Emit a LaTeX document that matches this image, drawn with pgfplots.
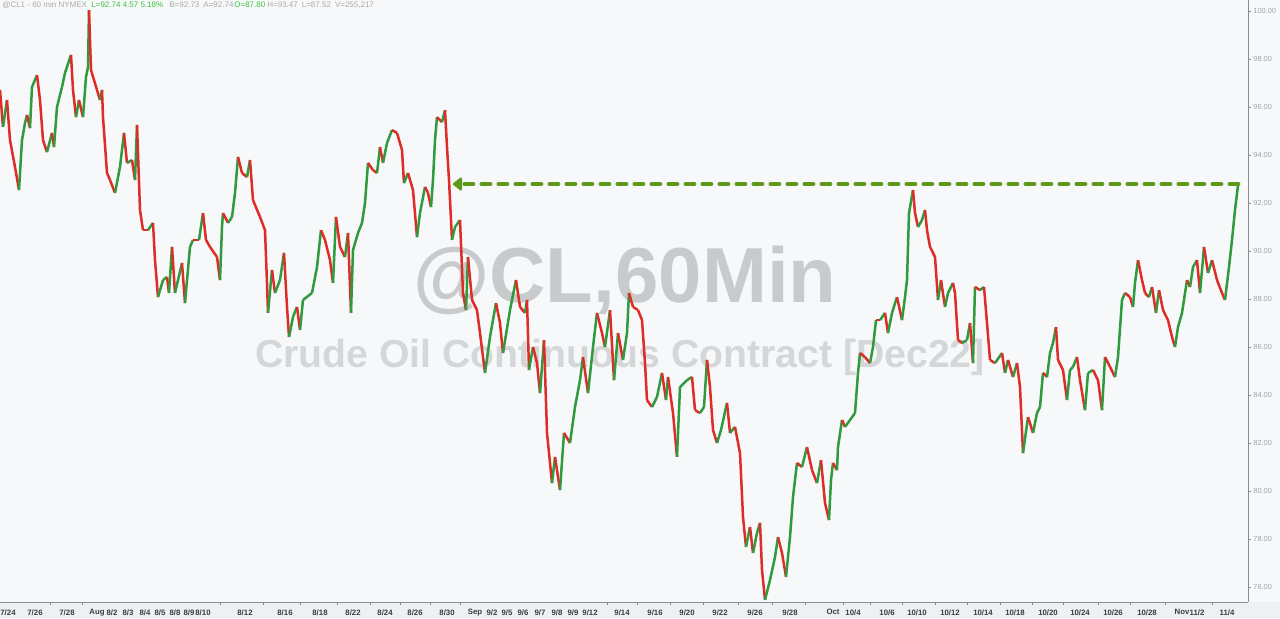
\documentclass[border=0pt]{standalone}
\usepackage{pgfplots}
\pgfplotsset{compat=1.18}
\usepackage{pgfplotstable}
\usetikzlibrary{arrows.meta}
\usepackage{fontspec}
\setmainfont{Liberation Sans}

\definecolor{bg}{HTML}{F7F8FA}
\definecolor{bgstrip}{HTML}{EFF0F2}
\definecolor{cred}{HTML}{DE2C26}
\definecolor{cgreen}{HTML}{2F9A3E}
\definecolor{cdash}{HTML}{5E9A18}
\definecolor{cline}{HTML}{8A8C8F}
\definecolor{ylab}{HTML}{A0A2A5}
\definecolor{xlab}{HTML}{3A3C40}
\definecolor{hgray}{HTML}{AAAAAA}
\definecolor{hgreen}{HTML}{3CC23C}
\definecolor{wma}{HTML}{C9CACC}
\definecolor{wmb}{HTML}{D5D6D8}

% hourly path of CL (Dec22), x = bar position, p = price, d = 1 if next bar is higher
\pgfplotstableread{
x p d
0 96.71 0
3 95.17 1
7 96.29 0
10 94.62 0
15 93.50 0
19 92.54 1
22 94.62 1
25 95.33 1
27 95.67 0
30 95.12 1
32 96.83 1
37 97.33 0
40 96.29 0
43 94.62 0
47 94.12 1
52 94.92 0
54 94.33 1
57 96.00 1
62 96.83 1
65 97.42 1
71 98.17 0
73 96.71 0
76 95.58 1
79 96.29 0
83 95.58 1
86 97.25 1
88 97.67 1
89 100.04 0
91 97.54 0
97 96.71 0
100 96.29 1
102 96.71 0
103 95.58 0
107 93.25 0
110 92.96 0
115 92.42 1
120 93.50 1
124 94.92 0
127 93.67 1
132 93.79 0
135 92.96 1
137 95.25 0
140 91.71 0
143 90.87 0
148 90.87 1
153 91.17 0
155 89.62 0
158 88.08 1
163 88.79 1
167 88.92 0
169 88.25 1
172 90.17 0
175 88.25 1
182 89.50 0
185 87.83 1
190 90.17 1
193 90.46 0
199 90.46 1
203 91.58 0
206 90.46 0
210 90.17 0
217 89.75 0
220 88.79 1
222 91.00 1
223 91.58 0
228 91.17 1
232 91.42 1
235 92.42 1
238 93.92 0
242 93.25 0
247 93.08 1
250 93.79 0
253 92.12 0
260 91.42 0
265 90.87 0
267 88.67 0
268 87.42 1
272 89.21 0
275 88.25 1
280 88.79 1
284 89.92 0
287 87.67 0
289 86.42 1
293 87.25 1
297 87.67 0
300 86.71 1
303 87.96 1
312 88.25 1
317 89.33 1
321 90.87 0
325 90.46 0
330 89.62 0
333 88.67 1
336 91.42 0
340 90.17 0
345 89.75 1
348 90.75 0
351 87.42 1
353 90.04 1
358 90.75 1
362 91.17 1
365 92.00 1
368 93.67 0
373 93.37 0
377 93.25 1
380 94.33 0
383 93.67 1
387 94.50 1
392 95.04 0
397 94.92 0
402 94.21 0
404 92.83 1
408 93.25 0
413 92.54 0
417 90.58 1
420 91.58 1
425 92.67 0
428 92.42 0
431 91.83 1
433 92.96 1
435 94.62 1
437 95.58 0
442 95.37 1
445 95.87 0
447 94.33 0
449 92.96 0
452 90.46 1
455 91.00 1
460 91.29 0
463 88.25 0
466 87.54 1
468 89.75 0
472 87.96 0
477 87.54 0
480 86.58 0
485 84.92 1
490 86.42 1
496 87.83 0
500 87.00 0
503 85.75 1
510 87.54 1
516 88.79 0
520 87.67 0
525 87.42 1
527 87.96 0
529 85.04 1
533 86.00 0
537 85.33 0
540 84.08 1
544 86.29 0
547 82.42 0
552 80.33 1
555 81.42 0
560 80.04 1
564 82.42 0
570 82.00 1
575 83.50 1
580 84.62 1
583 85.58 0
588 84.08 1
593 86.00 1
597 87.42 0
602 86.58 0
605 86.00 1
610 87.54 0
614 84.62 1
618 86.58 0
623 85.46 1
627 86.58 1
629 88.25 0
633 87.67 0
638 87.54 0
642 87.12 0
645 85.33 0
647 83.79 0
652 83.50 1
657 83.92 1
662 84.92 0
666 83.79 1
668 84.75 0
673 83.25 0
677 81.42 1
680 84.33 1
687 84.62 1
692 84.75 0
695 83.37 0
700 83.25 1
704 83.50 1
707 85.46 0
710 84.33 0
713 82.54 0
717 82.00 1
721 82.54 1
727 83.67 0
730 82.42 1
735 82.67 0
740 81.58 0
743 78.92 0
746 77.67 1
750 78.50 0
753 77.42 1
757 78.25 1
760 78.67 0
762 76.71 0
765 75.46 1
770 76.29 1
775 77.25 1
778 78.08 0
782 77.42 0
786 76.42 1
790 78.08 1
793 79.75 1
797 81.17 0
802 81.00 1
807 81.83 0
812 80.87 0
817 80.33 1
821 81.29 0
825 79.50 0
829 78.79 1
831 80.46 1
833 81.17 0
837 80.87 1
838 81.83 1
842 82.96 0
845 82.67 1
850 82.96 1
855 83.25 1
858 84.92 1
860 85.75 0
865 85.58 0
870 85.33 1
873 86.00 1
876 87.12 0
880 87.12 1
885 87.42 0
888 86.58 1
892 87.42 1
897 88.08 0
902 87.12 1
905 88.08 1
907 88.79 1
909 91.58 1
913 92.54 0
915 91.58 0
918 91.00 1
922 91.29 1
925 91.71 0
927 90.87 0
930 90.17 0
935 89.75 0
938 87.96 1
941 88.79 0
945 87.67 1
948 88.25 1
953 88.67 0
955 88.25 0
958 86.29 0
962 86.17 1
967 86.29 1
970 87.00 0
973 85.33 1
975 88.50 0
980 88.37 1
984 88.50 0
987 87.00 0
990 85.46 0
995 85.33 1
1002 85.75 0
1005 84.92 1
1008 85.46 0
1013 84.75 1
1017 85.33 0
1020 84.33 0
1023 81.58 1
1028 83.08 0
1033 82.42 1
1037 83.25 1
1040 83.50 1
1043 84.92 0
1047 84.75 1
1050 85.75 1
1053 86.17 1
1056 86.83 0
1058 85.46 0
1063 85.04 0
1067 83.79 1
1070 85.04 1
1073 85.17 1
1077 85.58 0
1080 84.62 0
1085 83.37 1
1088 84.92 1
1093 85.04 0
1098 84.62 0
1102 83.37 1
1105 85.58 0
1110 85.17 0
1115 84.75 1
1118 85.58 1
1122 87.96 1
1125 88.25 0
1130 88.08 0
1133 87.67 1
1135 88.67 1
1138 89.62 0
1142 88.79 0
1145 88.25 0
1149 88.08 1
1152 88.50 0
1156 87.42 1
1159 88.37 0
1163 87.54 0
1168 87.12 0
1172 86.42 0
1175 86.00 1
1178 86.83 1
1182 87.42 1
1187 88.79 0
1190 88.50 1
1193 89.33 1
1197 89.62 0
1200 88.25 1
1204 90.17 0
1208 89.08 1
1212 89.62 0
1217 88.79 0
1222 88.25 0
1225 87.96 1
1229 89.33 1
1232 90.46 1
1235 91.71 1
1238 92.74 0
}\cl

\newcommand\hdr{\fontsize{4}{5}\selectfont}

\begin{document}
\begin{tikzpicture}
\fill[bg] (0,-8pt) rectangle (640pt,301pt);
\fill[bgstrip] (0,-8pt) rectangle (640pt,0);
\begin{axis}[
  at={(0,0)}, anchor=south west,
  x=0.5pt, y=12pt,
  xmin=0, xmax=1248, ymin=75.375, ymax=100.458,
  axis x line*=bottom, axis y line*=right,
  axis line style={draw=cline, line width=0.5pt, -},
  tick align=outside,
  major tick length=1.5pt, minor tick length=1.5pt,
  ytick={76,78,...,100},
  major y tick style={draw=cline, line width=0.4pt},
  yticklabel style={font=\fontsize{3.7}{4}\selectfont, text=ylab, inner sep=0pt, xshift=1pt,
    /pgf/number format/.cd, fixed, fixed zerofill, precision=2, assume math mode=true},
  xtick={8,35,67,97,112,128,145,160,175,189,203,245,285,320,353,385,415,447,475,492,507,523,540,557,573,590,622,655,687,720,755,790,833,853,887,917,950,983,1015,1048,1080,1113,1147,1182,1197,1227},
  xticklabels={7/24,7/26,7/28,Aug,8/2,8/3,8/4,8/5,8/8,8/9,8/10,8/12,8/16,8/18,8/22,8/24,8/26,8/30,Sep,9/2,9/5,9/6,9/7,9/8,9/9,9/12,9/14,9/16,9/20,9/22,9/26,9/28,Oct,10/4,10/6,10/10,10/12,10/14,10/18,10/20,10/24,10/26,10/28,Nov,11/2,11/4},
  minor xtick={50,82,220,263,300,337,370,400,430,460,607,637,670,703,738,772,805,843,870,902,935,967,1000,1032,1063,1098,1130,1165,1212},
  major x tick style={draw=none},
  minor x tick style={draw=cline, line width=0.4pt},
  xticklabel style={font=\fontsize{3.9}{4}\selectfont\bfseries, text=xlab, inner sep=0pt, yshift=-2pt},
  colormap={rg}{color=(cred) color=(cgreen)},
  point meta min=0, point meta max=1,
]
% watermark
\node[font=\fontsize{39}{40}\selectfont\bfseries, text=wma] at (axis cs:625,88.79) {@CL,60Min};
\node[font=\fontsize{19.6}{20}\selectfont\bfseries, text=wmb] at (axis cs:620,85.58) {Crude Oil Continuous Contract [Dec22]};

% header line
\node[anchor=west, inner sep=0pt, font=\hdr, text=hgray] at (axis cs:2,100.25) {@CL1 - 60 min NYMEX};
\node[anchor=west, inner sep=0pt, font=\hdr, text=hgreen] at (axis cs:91,100.25) {L=92.74 4.57 5.18\%};
\node[anchor=west, inner sep=0pt, font=\hdr, text=hgray] at (axis cs:169,100.25) {B=92.73\enspace A=92.74};
\node[anchor=west, inner sep=0pt, font=\hdr, text=hgreen] at (axis cs:234,100.25) {O=87.80};
\node[anchor=west, inner sep=0pt, font=\hdr, text=hgray] at (axis cs:267,100.25) {H=93.47\enspace L=87.52\enspace V=255,217};

% price path, red down / green up
\addplot[mesh, shader=flat corner, point meta=\thisrow{d}, line width=1.25pt, line join=miter, line cap=butt] table[x=x, y=p] {\cl};

% resistance arrow back to the Aug 30 level
\addplot[draw=cdash, line width=2.4pt, line cap=round, dash pattern=on 4.1pt off 4.4pt,
  -{Triangle[length=5pt, width=7.5pt, round]}] coordinates {(1238,92.79) (453,92.79)};
\end{axis}
\pgfresetboundingbox
\path[use as bounding box] (0,-8pt) rectangle (640pt,301pt);
\end{tikzpicture}
\end{document}
